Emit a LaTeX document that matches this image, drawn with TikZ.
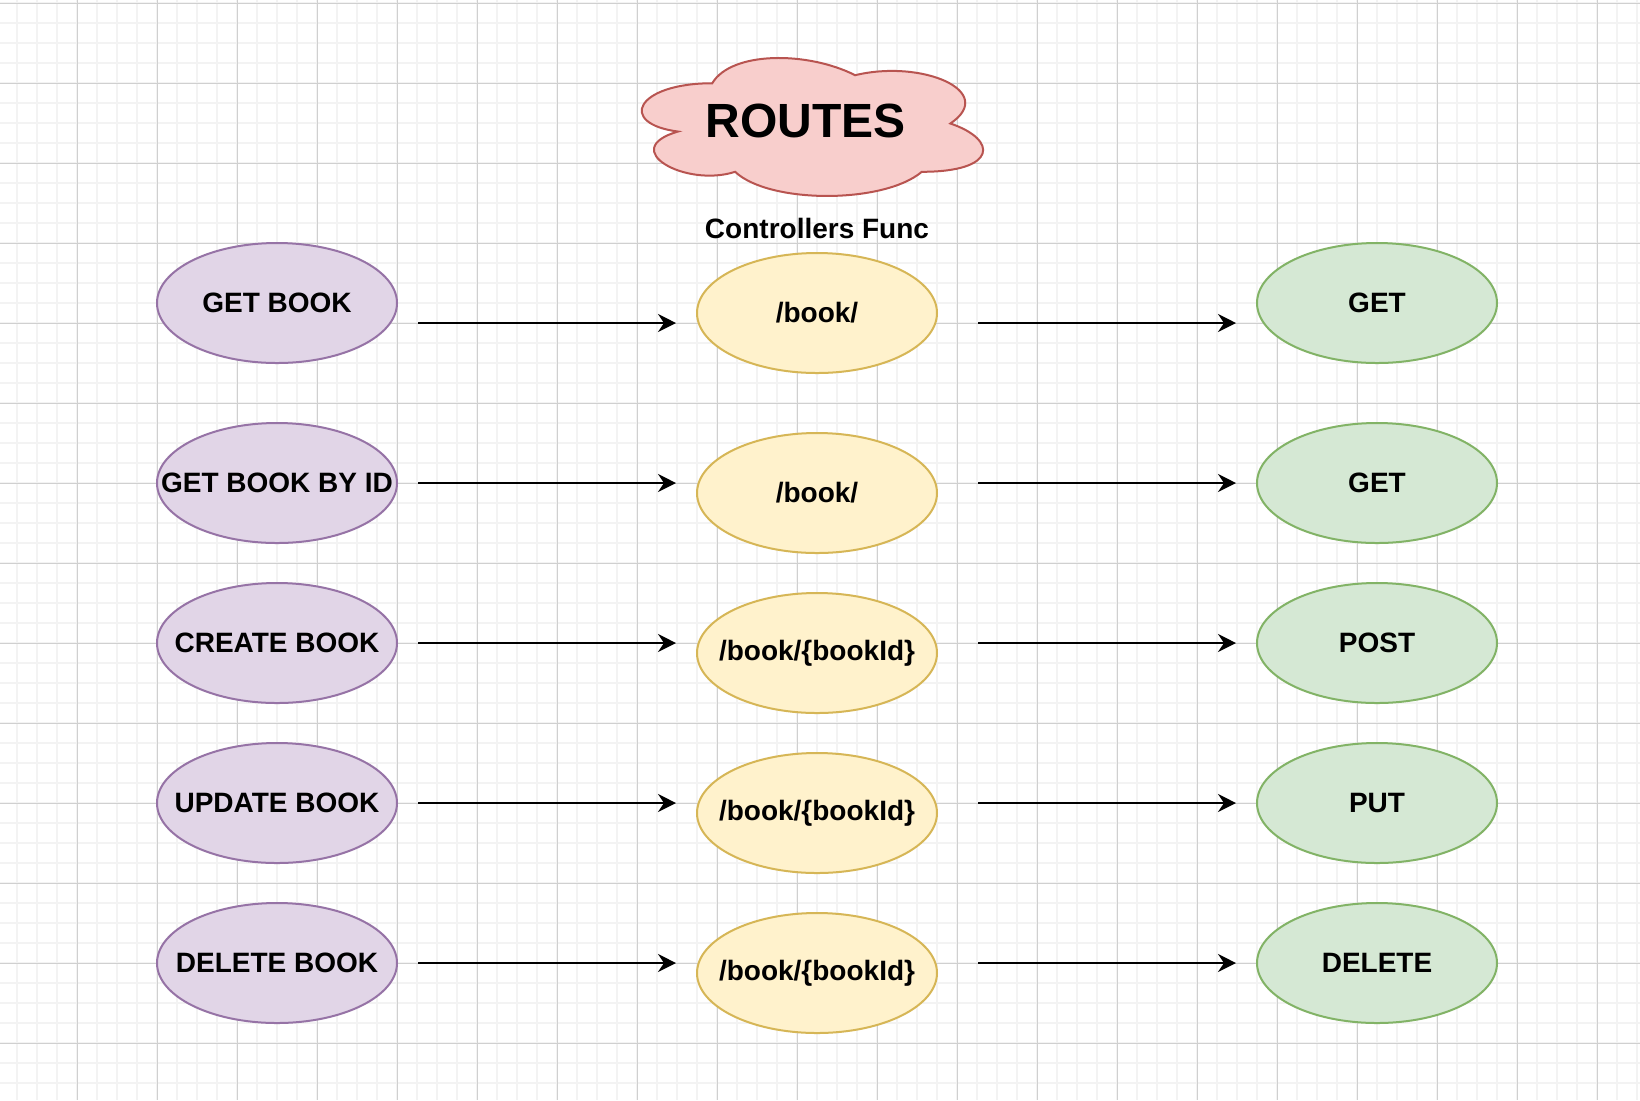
\documentclass[tikz,border=0pt]{standalone}
\usepackage{fontspec}
\setmainfont{Liberation Sans}
\usetikzlibrary{positioning, shapes, arrows.meta}

\definecolor{purplefill}{HTML}{E1D5E7}
\definecolor{purpleline}{HTML}{9673A6}
\definecolor{yellowfill}{HTML}{FFF2CC}
\definecolor{yellowline}{HTML}{D6B656}
\definecolor{greenfill}{HTML}{D5E8D4}
\definecolor{greenline}{HTML}{82B366}
\definecolor{redfill}{HTML}{F8CECC}
\definecolor{redline}{HTML}{B85450}
\definecolor{minorgrid}{HTML}{F3F3F3}
\definecolor{majorgrid}{HTML}{D0D0D0}

\begin{document}
\begin{tikzpicture}[x=0.5pt, y=-0.5pt]
        % Pixel units, grid paper behind three columns of ellipses
        \tikzstyle{oval}=[ellipse, draw, line width=1pt, minimum width=120pt, minimum height=60pt, inner sep=0pt,
            font=\fontsize{14}{17}\selectfont\bfseries,
            execute at begin node={\hbox to 0pt\bgroup\hss}, execute at end node={\hss\egroup}]
        \tikzstyle{action}=[oval, draw=purpleline, fill=purplefill]
        \tikzstyle{endpoint}=[oval, draw=yellowline, fill=yellowfill]
        \tikzstyle{verb}=[oval, draw=greenline, fill=greenfill]
        \tikzstyle{link}=[-{Stealth[length=9pt, width=9pt, inset=3pt]}, line width=1pt]

        \useasboundingbox (0,0) rectangle (1640,1100);
        \fill[white] (0,0) rectangle (1640,1100);
        \foreach \x in {17,37,...,1637} \draw[minorgrid, line width=0.9pt] (\x,0) -- (\x,1100);
        \foreach \y in {3,23,...,1083} \draw[minorgrid, line width=0.9pt] (0,\y) -- (1640,\y);
        \foreach \x in {77,157,...,1597} \draw[majorgrid, line width=0.5pt] (\x,0) -- (\x,1100);
        \foreach \y in {3,83,...,1043} \draw[majorgrid, line width=0.5pt] (0,\y) -- (1640,\y);

        \draw[fill=redfill, draw=redline, line width=1pt, shift={(617,43)}, xscale=381, yscale=161]
            (0.25,0.25) .. controls (0.05,0.25) and (0,0.5) .. (0.16,0.55)
            .. controls (0,0.66) and (0.18,0.9) .. (0.31,0.8)
            .. controls (0.4,1) and (0.7,1) .. (0.8,0.8)
            .. controls (1,0.8) and (1,0.6) .. (0.875,0.5)
            .. controls (1,0.3) and (0.8,0.1) .. (0.625,0.2)
            .. controls (0.5,0.05) and (0.3,0.05) .. (0.25,0.25) -- cycle;
        \node[font=\fontsize{24}{29}\selectfont\bfseries] (routes) at (806,121) {ROUTES};
        \node[font=\fontsize{14}{17}\selectfont\bfseries] (ctrl) at (817,228) {Controllers Func};

        \node[action] (getbook) at (277,303) {GET BOOK};
        \node[action] (getbyid) at (277,483) {GET BOOK BY ID};
        \node[action] (createbook) at (277,643) {CREATE BOOK};
        \node[action] (updatebook) at (277,803) {UPDATE BOOK};
        \node[action] (deletebook) at (277,963) {DELETE BOOK};

        \node[endpoint] (url1) at (817,313) {/book/};
        \node[endpoint] (url2) at (817,493) {/book/};
        \node[endpoint] (url3) at (817,653) {/book/\{bookId\}};
        \node[endpoint] (url4) at (817,813) {/book/\{bookId\}};
        \node[endpoint] (url5) at (817,973) {/book/\{bookId\}};

        \node[verb] (get1) at (1377,303) {GET};
        \node[verb] (get2) at (1377,483) {GET};
        \node[verb] (post) at (1377,643) {POST};
        \node[verb] (put) at (1377,803) {PUT};
        \node[verb] (del) at (1377,963) {DELETE};

        \draw[link, shorten <=10pt, shorten >=10pt] ([yshift=-10pt]getbook.east) -- ([yshift=-10pt]getbook.east -| url1.west);
        \draw[link, shorten <=10pt, shorten >=10pt] (getbyid.east) -- (getbyid.east -| url2.west);
        \draw[link, shorten <=10pt, shorten >=10pt] (createbook.east) -- (createbook.east -| url3.west);
        \draw[link, shorten <=10pt, shorten >=10pt] (updatebook.east) -- (updatebook.east -| url4.west);
        \draw[link, shorten <=10pt, shorten >=10pt] (deletebook.east) -- (deletebook.east -| url5.west);

        \draw[link, shorten <=20pt, shorten >=10pt] ([yshift=-10pt]get1.west -| url1.east) -- ([yshift=-10pt]get1.west);
        \draw[link, shorten <=20pt, shorten >=10pt] (get2.west -| url2.east) -- (get2.west);
        \draw[link, shorten <=20pt, shorten >=10pt] (post.west -| url3.east) -- (post.west);
        \draw[link, shorten <=20pt, shorten >=10pt] (put.west -| url4.east) -- (put.west);
        \draw[link, shorten <=20pt, shorten >=10pt] (del.west -| url5.east) -- (del.west);
      \end{tikzpicture}
\end{document}
